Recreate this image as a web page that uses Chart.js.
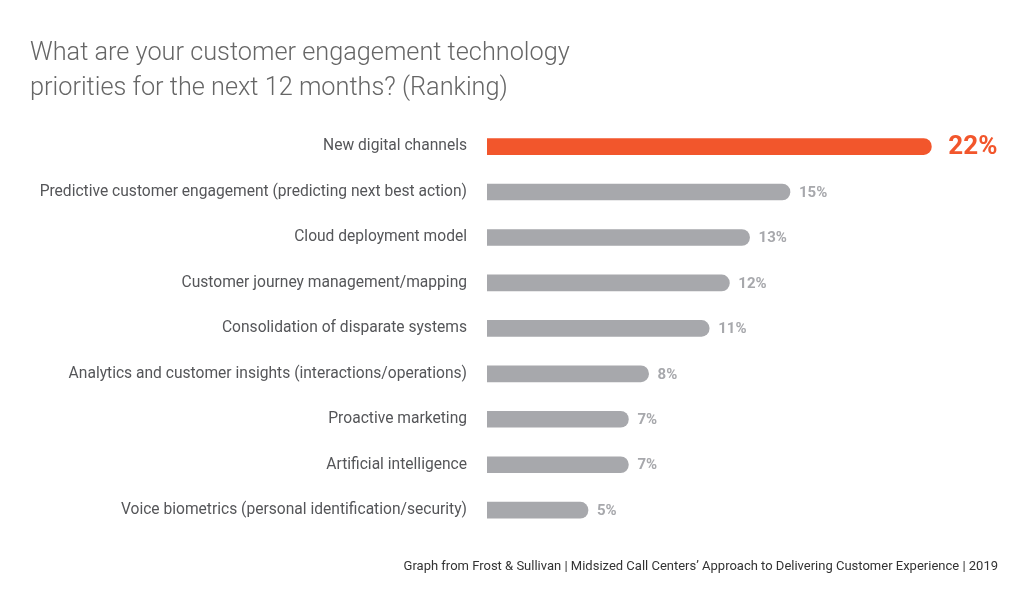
<!DOCTYPE html>
<html lang="en">
<head>
<meta charset="UTF-8">
<title>Customer engagement technology priorities</title>
<script src="https://cdn.jsdelivr.net/npm/chart.js"></script>
<style>
  html, body { margin: 0; padding: 0; background: #fff; }
  #wrap { width: 1029px; height: 613px; }
</style>
</head>
<body>
<div id="wrap"><canvas id="myChart"></canvas></div>
<script>
// data
const categories = [
  'New digital channels',
  'Predictive customer engagement (predicting next best action)',
  'Cloud deployment model',
  'Customer journey management/mapping',
  'Consolidation of disparate systems',
  'Analytics and customer insights (interactions/operations)',
  'Proactive marketing',
  'Artificial intelligence',
  'Voice biometrics (personal identification/security)'
];
const values = [22, 15, 13, 12, 11, 8, 7, 7, 5];
const titleLines = ['What are your customer engagement technology', 'priorities for the next 12 months? (Ranking)'];
const sourceNote = 'Graph from Frost & Sullivan | Midsized Call Centers\u2019 Approach to Delivering Customer Experience | 2019';

const ORANGE = '#F2562C';
const GREY = '#A7A8AC';
const barColors = values.map((v, i) => i === 0 ? ORANGE : GREY);

// value labels at the end of each bar
const valueLabels = {
  id: 'valueLabels',
  afterDatasetsDraw(chart) {
    const ctx = chart.ctx;
    const meta = chart.getDatasetMeta(0);
    ctx.save();
    ctx.textBaseline = 'middle';
    ctx.textAlign = 'left';
    meta.data.forEach((bar, i) => {
      if (i === 0) {
        ctx.font = 'bold 26px Roboto';
        ctx.fillStyle = ORANGE;
        ctx.fillText(values[i] + '%', bar.x + 17, bar.y + 1);
      } else {
        ctx.font = 'bold 15px Roboto';
        ctx.fillStyle = GREY;
        ctx.fillText(values[i] + '%', bar.x + 9, bar.y + 1);
      }
    });
    ctx.restore();
  }
};

const ctx = document.getElementById('myChart');
new Chart(ctx, {
  type: 'bar',
  data: {
    labels: categories,
    datasets: [{
      data: values,
      backgroundColor: barColors,
      barThickness: 16,
      borderRadius: 8
    }]
  },
  options: {
    indexAxis: 'y',
    responsive: true,
    maintainAspectRatio: false,
    animation: false,
    layout: { padding: { top: 20, left: 30, right: 31, bottom: 38 } },
    scales: {
      x: { display: false, min: 0, max: 25.3 },
      y: {
        grid: { display: false },
        border: { display: false },
        ticks: {
          padding: 12,
          color: '#555659',
          font: { family: 'Roboto', size: 15.6 }
        },
        afterFit(scale) { scale.width = 457; }
      }
    },
    plugins: {
      legend: { display: false },
      tooltip: { enabled: false },
      title: {
        display: true,
        text: titleLines,
        align: 'start',
        color: '#666666',
        font: { family: 'Roboto', size: 25.3, weight: '300', lineHeight: 1.38 },
        padding: { top: 16, bottom: 18 }
      },
      subtitle: {
        display: true,
        text: sourceNote,
        position: 'bottom',
        align: 'end',
        color: '#333333',
        font: { family: 'Roboto', size: 13, lineHeight: 1.2 },
        padding: { top: 26.5, bottom: 0 }
      }
    }
  },
  plugins: [valueLabels]
});
</script>
</body>
</html>
